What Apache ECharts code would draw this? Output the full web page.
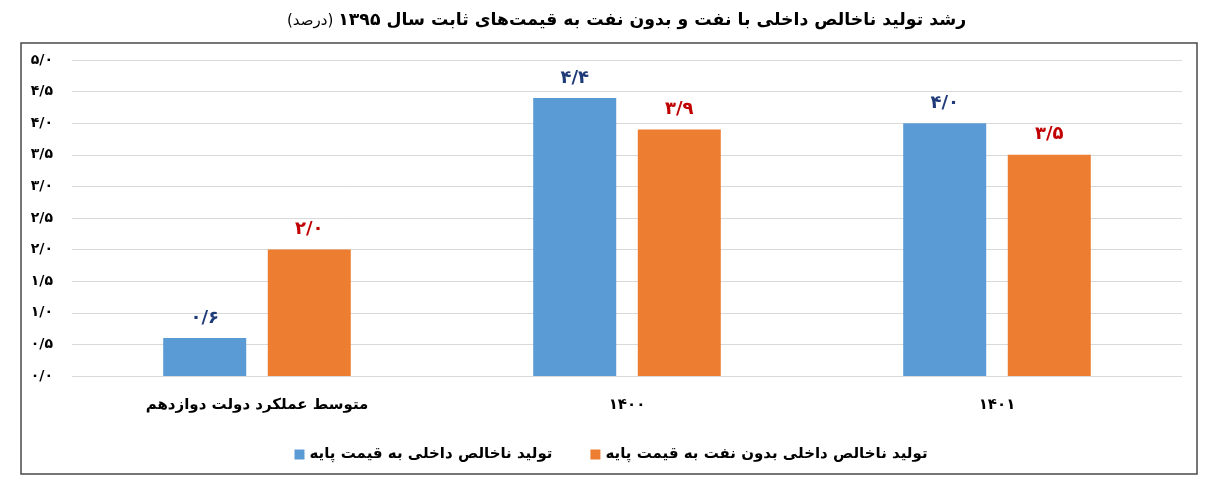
<!DOCTYPE html>
<html>
<head>
<meta charset="utf-8">
<script src="https://cdn.jsdelivr.net/npm/echarts@6/dist/echarts.min.js"></script>
<style>
html,body{margin:0;padding:0;background:#fff;}
#c{width:1222px;height:486px;}
</style>
</head>
<body>
<div id="c"></div>
<script>
const titleMain = 'رشد تولید ناخالص داخلی با نفت و بدون نفت به قیمت‌های ثابت سال ۱۳۹۵';
const titleUnit = '(درصد)';
const categories = ['متوسط عملکرد دولت دوازدهم', '۱۴۰۰', '۱۴۰۱'];
const seriesNames = ['تولید ناخالص داخلی به قیمت پایه', 'تولید ناخالص داخلی بدون نفت به قیمت پایه'];
const gdpTotal = [0.6, 4.4, 4.0];
const gdpNonOil = [2.0, 3.9, 3.5];
const yMin = 0, yMax = 5, yInterval = 0.5;

const FONT = '"DejaVu Sans", sans-serif';
function fa(v, dec) {
  const s = Number(v).toFixed(dec).replace('.', '/');
  return s.replace(/[0-9]/g, d => '۰۱۲۳۴۵۶۷۸۹'[+d]);
}

const chart = echarts.init(document.getElementById('c'), null, {renderer: 'canvas'});
chart.setOption({
  backgroundColor: '#fff',
  animation: false,
  title: {
    left: 287,
    top: 12,
    padding: 0,
    text: '{u|' + titleUnit + '} {m|' + titleMain + '}',
    textStyle: {
      rich: {
        m: {fontFamily: FONT, fontWeight: 'bold', fontSize: 17.3, color: '#000'},
        u: {fontFamily: FONT, fontWeight: 'normal', fontSize: 15, color: '#000'}
      }
    }
  },
  graphic: [{
    type: 'rect',
    shape: {x: 21, y: 43, width: 1176, height: 431},
    style: {fill: 'none', stroke: '#4a4a4a', lineWidth: 1.5},
    silent: true, z: -1
  }],
  legend: {
    data: seriesNames,
    left: 'center',
    top: 442,
    itemWidth: 10,
    itemHeight: 10,
    itemGap: 38,
    icon: 'rect',
    textStyle: {fontFamily: FONT, fontWeight: 'bold', fontSize: 15, color: '#000'}
  },
  grid: {left: 72, right: 40, top: 60, bottom: 110},
  xAxis: {
    type: 'category',
    data: categories,
    axisLine: {show: false},
    axisTick: {show: false},
    axisLabel: {fontFamily: FONT, fontWeight: 'bold', fontSize: 15, color: '#000', margin: 22}
  },
  yAxis: {
    type: 'value',
    min: yMin, max: yMax, interval: yInterval,
    axisLine: {show: false},
    axisTick: {show: false},
    splitLine: {lineStyle: {color: '#d9d9d9', width: 1}},
    axisLabel: {fontFamily: FONT, fontWeight: 'bold', fontSize: 14, color: '#000', margin: 19,
      formatter: v => fa(v, 1)}
  },
  series: [
    {
      name: seriesNames[0], type: 'bar', data: gdpTotal,
      barWidth: 83, barGap: '26%',
      itemStyle: {color: '#5b9bd5'},
      label: {show: true, position: 'top', distance: 11,
        fontFamily: FONT, fontWeight: 'bold', fontSize: 18, color: '#1f3a78',
        formatter: p => fa(p.value, 1)}
    },
    {
      name: seriesNames[1], type: 'bar', data: gdpNonOil,
      barWidth: 83,
      itemStyle: {color: '#ed7d31'},
      label: {show: true, position: 'top', distance: 11,
        fontFamily: FONT, fontWeight: 'bold', fontSize: 18, color: '#c00000',
        formatter: p => fa(p.value, 1)}
    }
  ]
});
</script>
</body>
</html>
